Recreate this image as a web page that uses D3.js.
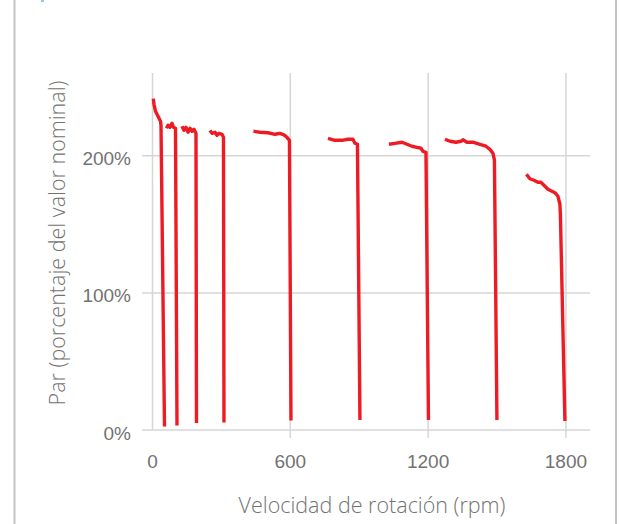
<!DOCTYPE html>
<html>
<head>
<meta charset="utf-8">
<script src="https://cdn.jsdelivr.net/npm/d3@7"></script>
<style>
  html, body { margin: 0; padding: 0; background: #fff; }
  svg { display: block; font-family: "Open Sans", "Noto Sans", sans-serif; }
</style>
</head>
<body>
<svg id="chart" width="620" height="524"></svg>
<script>
// ---- data ----
const xTicks = [0, 600, 1200, 1800];
const yTicks = [0, 100, 200];
const yTickLabels = ["0%", "100%", "200%"];
const xTitle = "Velocidad de rotación (rpm)";
const yTitle = "Par (porcentaje del valor nominal)";

// speed (rpm) of each torque–speed curve
const curveRpm = [
  [5.7, 8.7, 15.2, 21.8, 30.5, 37, 39.2, 54.4],
  [63.1, 69.7, 78.4, 87.1, 93.6, 102.3, 108.8],
  [130.6, 139.3, 148, 156.7, 165.4, 174.2, 182.8, 191.5, 193.7],
  [252.5, 261.2, 274.2, 282.9, 291.7, 304.7, 311.2, 313.4],
  [441.8, 470.1, 504.9, 535.4, 557.2, 574.6, 587.7, 598.5, 605.1],
  [766.1, 796.6, 827.1, 853.2, 874.9, 883.6, 894.5, 905.4],
  [1031.7, 1057.8, 1088.3, 1110.1, 1131.8, 1153.6, 1171, 1179.8, 1192.8, 1203.7],
  [1275.4, 1297.2, 1323.3, 1345.1, 1353.8, 1371.2, 1397.3, 1427.8, 1453.9, 1471.3, 1484.4, 1490.9, 1501.8],
  [1630.2, 1645.4, 1662.8, 1680.3, 1693.3, 1710.7, 1723.8, 1736.8, 1754.3, 1767.3, 1776, 1778.2, 1797.8]
];
// torque (% of nominal) of each curve
const curveTorque = [
  [241.3, 237.2, 232.1, 229.9, 227, 224.8, 221.9, 2.2],
  [219.7, 221.9, 220.4, 223.3, 220.4, 219.7, 2.9],
  [221.1, 218.2, 220.4, 216.8, 219.7, 217.5, 219, 216, 4.7],
  [218.2, 216, 216.8, 214.6, 216, 215.3, 213.1, 5.1],
  [217.5, 216.8, 216.4, 215.3, 216, 214.9, 213.1, 210.9, 6.6],
  [212.4, 210.9, 210.9, 211.7, 211.7, 208.8, 208, 6.9],
  [208, 208.7, 209.5, 208, 206.6, 205.8, 205.1, 202.9, 202.2, 6.9],
  [211.7, 210.2, 209.5, 210.2, 211.3, 209.5, 209.5, 208, 206.6, 204.3, 201.5, 196.4, 6.9],
  [186.2, 182.9, 181.8, 180.3, 180.3, 177.4, 175.2, 174.1, 172.7, 170.1, 164.3, 156.3, 6.2]
];

// ---- layout ----
const W = 620, H = 524;
const plot = { left: 152, right: 590, top: 73, bottom: 429.5 };
const textColor = "#727272";
const gridColor = "#d6d6d6";
const lineColor = "#ed1c24";

const svg = d3.select("#chart");

// frame lines at the page edges
svg.append("line").attr("x1", 14.5).attr("x2", 14.5).attr("y1", 0).attr("y2", H)
  .attr("stroke", "#c3c3c8").attr("stroke-width", 2);
svg.append("line").attr("x1", 616).attr("x2", 616).attr("y1", 0).attr("y2", H)
  .attr("stroke", "#c3c3c8").attr("stroke-width", 2);
svg.append("rect").attr("x", 41).attr("y", 0).attr("width", 3).attr("height", 2).attr("fill", "#8ecbe8");

const x = d3.scaleLinear().domain([0, 1907]).range([plot.left, plot.right]);
const y = d3.scaleLinear().domain([0, 260]).range([plot.bottom, plot.top]);

// y axis with horizontal gridlines
const yAxis = d3.axisLeft(y)
  .tickValues(yTicks)
  .tickFormat((d, i) => yTickLabels[i])
  .tickSize(-(plot.right - plot.left + 10))
  .tickPadding(11);
const gy = svg.append("g").attr("transform", `translate(${plot.left - 10},0)`).call(yAxis);
gy.select(".domain").remove();
gy.selectAll(".tick line").attr("stroke", gridColor).attr("stroke-width", 1.5);
gy.selectAll(".tick text").attr("fill", textColor).attr("font-size", 19)
  .attr("font-weight", 300).attr("dy", "0.5em");

// x axis with vertical gridlines
const xAxisY = 438;
const xAxis = d3.axisBottom(x)
  .tickValues(xTicks)
  .tickFormat(d3.format("d"))
  .tickSize(-(xAxisY - plot.top))
  .tickPadding(17);
const gx = svg.append("g").attr("transform", `translate(0,${xAxisY})`).call(xAxis);
gx.select(".domain").remove();
gx.selectAll(".tick line").attr("stroke", gridColor).attr("stroke-width", 1.5)
  .attr("y1", d => d === 0 ? -(xAxisY - plot.bottom) : 0);
gx.selectAll(".tick text").attr("fill", textColor).attr("font-size", 19).attr("font-weight", 300);

// axis titles
svg.append("text")
  .attr("x", 372).attr("y", 505).attr("dy", "0.35em")
  .attr("text-anchor", "middle")
  .attr("fill", textColor).attr("font-size", 21.5).attr("font-weight", 300)
  .text(xTitle);
svg.append("text")
  .attr("transform", "translate(57,243) rotate(-90)")
  .attr("dy", "0.35em")
  .attr("text-anchor", "middle")
  .attr("fill", textColor).attr("font-size", 21.5).attr("font-weight", 300)
  .text(yTitle);

// curves
const curves = curveRpm.map((rs, i) => rs.map((r, j) => [r, curveTorque[i][j]]));
const line = d3.line().x(d => x(d[0])).y(d => y(d[1]));
svg.append("g").selectAll("path").data(curves).join("path")
  .attr("d", line)
  .attr("fill", "none")
  .attr("stroke", lineColor)
  .attr("stroke-width", 3.4)
  .attr("stroke-linejoin", "round");
</script>
</body>
</html>
